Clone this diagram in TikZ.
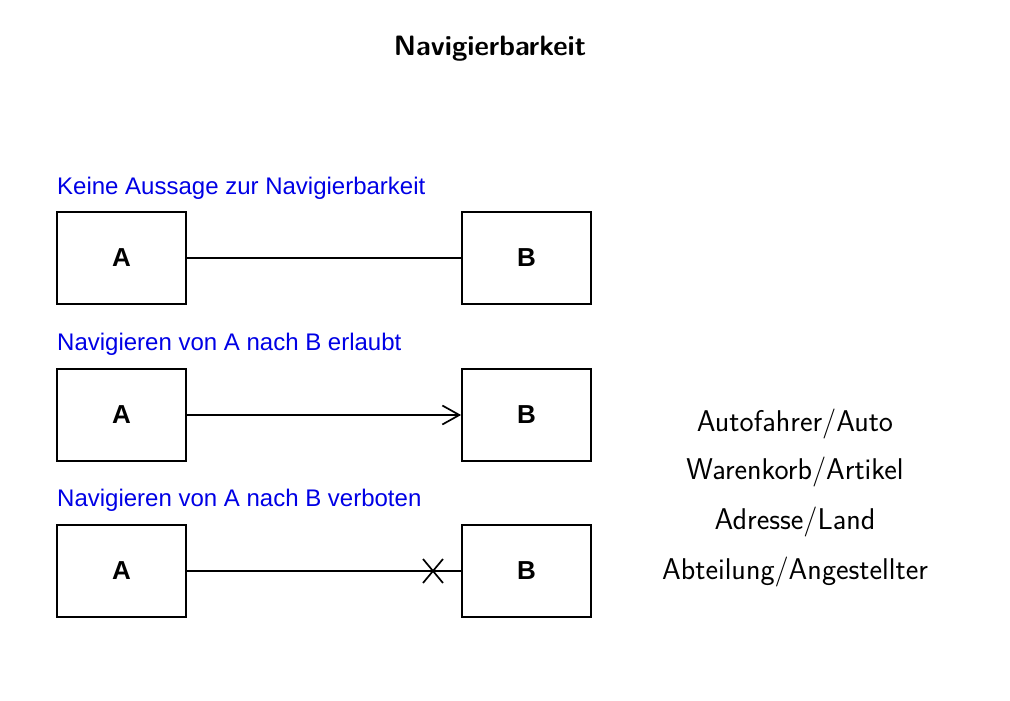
\documentclass[tikz,border=0pt]{standalone}
\usepackage{fontspec}
\newfontfamily\arial{Liberation Sans}
\usetikzlibrary{arrows.meta}
\tikzset{
  box/.style={draw, line width=1.8pt, minimum width=129pt, minimum height=92pt, inner sep=0pt, font=\arial\bfseries\fontsize{26}{30}\selectfont},
  lbl/.style={anchor=base west, inner sep=0pt, text=blue!90!black, font=\arial\fontsize{24}{28}\selectfont},
  conn/.style={line width=1.7pt},
  ex/.style={font=\sffamily\fontsize{30}{36}\selectfont, inner sep=0pt},
}
\begin{document}
\begin{tikzpicture}[x=1pt,y=-1pt]
\useasboundingbox (0,0) rectangle (1010,701);
\node[font=\sffamily\bfseries\fontsize{28}{34}\selectfont] (title) at (490,49) {Navigierbarkeit};

\node[lbl] (l1) at (57,194) {Keine Aussage zur Navigierbarkeit};
\node[box] (a1) at (121.5,258) {A};
\node[box] (b1) at (526.5,258) {B};
\draw[conn] (a1) -- (b1);

\node[lbl] (l2) at (57,350) {Navigieren von A nach B erlaubt};
\node[box] (a2) at (121.5,415) {A};
\node[box] (b2) at (526.5,415) {B};
\draw[conn, -{Straight Barb[length=17pt,width=19pt,line width=1.7pt]}] (a2) -- (b2);

\node[lbl] (l3) at (57,506) {Navigieren von A nach B verboten};
\node[box] (a3) at (121.5,571) {A};
\node[box] (b3) at (526.5,571) {B};
\draw[conn] (a3) -- (b3);
\coordinate (x3) at (433,571);
\draw[conn] ([shift={(-10,-12)}]x3) -- ([shift={(10,12)}]x3);
\draw[conn] ([shift={(-10,12)}]x3) -- ([shift={(10,-12)}]x3);

\node[ex] (e1) at (795,424) {Autofahrer/Auto};
\node[ex] (e2) at (795,472) {Warenkorb/Artikel};
\node[ex] (e3) at (795,522) {Adresse/Land};
\node[ex] (e4) at (795,572) {Abteilung/Angestellter};
\end{tikzpicture}
\end{document}
